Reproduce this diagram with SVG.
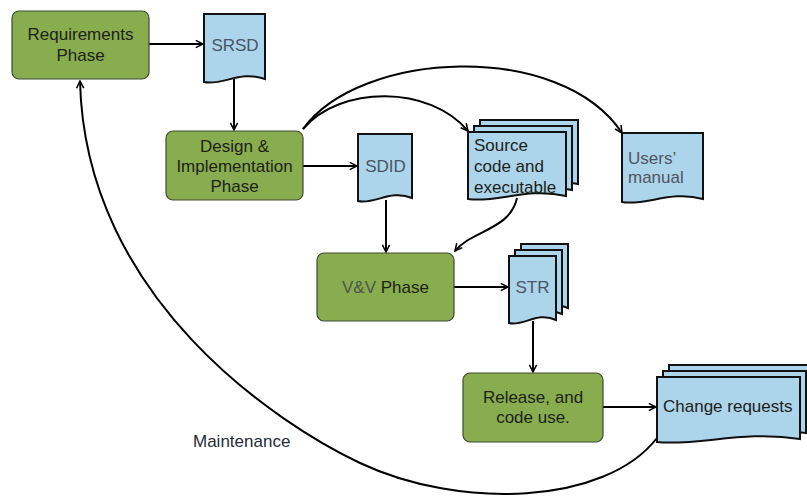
<svg xmlns="http://www.w3.org/2000/svg" width="807" height="497" viewBox="0 0 807 497">
  <style>
    .phase { fill: #88ad4f; stroke: #3f4a33; stroke-width: 1.2; }
    .doc { fill: #acd4ea; stroke: #111; stroke-width: 2; stroke-linejoin: miter; }
    .lbl { font-family: "Liberation Sans", Arial, sans-serif; font-size: 17px; fill: #1e2218; }
    .mid { text-anchor: middle; }
    .grey { fill: #4a5566; }
    .edge { fill: none; stroke: #000; stroke-width: 2; }
  </style>
  <defs>
    <marker id="arrow" viewBox="0 0 10 10" refX="9" refY="5" markerWidth="9" markerHeight="9" markerUnits="userSpaceOnUse" orient="auto">
      <path d="M1,1 L9,5 L1,9" fill="none" stroke="#000" stroke-width="1.7"/>
    </marker>
  </defs>
  <rect width="807" height="497" fill="#fff"/>

  <!-- connectors -->
  <g id="connectors">
    <path class="edge" d="M149,44 H203" marker-end="url(#arrow)"/>
    <path class="edge" d="M234,79 V130" marker-end="url(#arrow)"/>
    <path class="edge" d="M303,166 H357" marker-end="url(#arrow)"/>
    <path class="edge" d="M386,200 V252" marker-end="url(#arrow)"/>
    <path class="edge" d="M454,287 H508" marker-end="url(#arrow)"/>
    <path class="edge" d="M533,321 V372" marker-end="url(#arrow)"/>
    <path class="edge" d="M603,407 H656" marker-end="url(#arrow)"/>
    <path class="edge" d="M303,129 C340,85 430,85 468,131" marker-end="url(#arrow)"/>
    <path class="edge" d="M303,129 C360,50 560,40 622,133" marker-end="url(#arrow)"/>
    <path class="edge" d="M517,198 C510,230 472,230 455,251" marker-end="url(#arrow)"/>
    <path class="edge" d="M657,438 C605,505 460,510 360,463 C280,425 85,300 80,81" marker-end="url(#arrow)"/>
  </g>

  <!-- phases -->
  <g id="requirements">
    <rect class="phase" x="12" y="11" width="137" height="68" rx="7"/>
    <text class="lbl mid" x="80.5" y="40">Requirements</text>
    <text class="lbl mid" x="80.5" y="61">Phase</text>
  </g>
  <g id="design">
    <rect class="phase" x="166" y="131" width="137" height="69" rx="7"/>
    <text class="lbl mid" x="234.5" y="152">Design &amp;</text>
    <text class="lbl mid" x="234.5" y="172">Implementation</text>
    <text class="lbl mid" x="234.5" y="192">Phase</text>
  </g>
  <g id="vv">
    <rect class="phase" x="317" y="253" width="137" height="68" rx="7"/>
    <text class="lbl mid" x="385.5" y="293"><tspan fill="#4d5548">V&amp;V</tspan> Phase</text>
  </g>
  <g id="release">
    <rect class="phase" x="463" y="373" width="140" height="69" rx="7"/>
    <text class="lbl mid" x="533" y="403">Release, and</text>
    <text class="lbl mid" x="533" y="423">code use.</text>
  </g>

  <!-- documents -->
  <g id="srsd">
    <path class="doc" d="M204,14 H265 V79 C240.6,70 222.3,86 204,82 Z"/>
    <text class="lbl mid grey" x="235" y="51">SRSD</text>
  </g>
  <g id="sdid">
    <path class="doc" d="M358,134 H412 V198 C390.4,189 374.2,205 358,201 Z"/>
    <text class="lbl mid grey" x="385.5" y="172">SDID</text>
  </g>
  <g id="source">
    <path class="doc" d="M480,120 H578 V184 C538.8,175 509.4,191 480,187 Z"/>
    <path class="doc" d="M474,126 H572 V190 C532.8,181 503.4,197 474,193 Z"/>
    <path class="doc" d="M468,132 H566 V196 C526.8,187 497.4,203 468,199 Z"/>
    <text class="lbl" x="474" y="151">Source</text>
    <text class="lbl" x="474" y="172">code and</text>
    <text class="lbl" x="474" y="193">executable</text>
  </g>
  <g id="manual">
    <path class="doc" d="M622,133 H703 V199 C670.6,190 646.3,206 622,202 Z"/>
    <text class="lbl" x="628" y="164" style="fill:#4f5560">Users’</text>
    <text class="lbl" x="628" y="183" style="fill:#4f5560">manual</text>
  </g>
  <g id="str">
    <path class="doc" d="M521,244 H568 V308 C549.2,299 535.1,315 521,311 Z"/>
    <path class="doc" d="M515,250 H562 V314 C543.2,305 529.1,321 515,317 Z"/>
    <path class="doc" d="M509,256 H556 V320 C537.2,311 523.1,327 509,323 Z"/>
    <text class="lbl mid grey" x="532.5" y="293">STR</text>
  </g>
  <g id="changes">
    <path class="doc" d="M669,365 H812 V427 C754.8,418 711.9,434 669,430 Z"/>
    <path class="doc" d="M663,371 H806 V433 C748.8,424 705.9,440 663,436 Z"/>
    <path class="doc" d="M657,377 H800 V439 C742.8,430 699.9,446 657,442 Z"/>
    <text class="lbl" x="663" y="412">Change requests</text>
  </g>

  <g id="maintenance">
    <text class="lbl" x="193" y="447" style="fill:#262b3a">Maintenance</text>
  </g>
</svg>
